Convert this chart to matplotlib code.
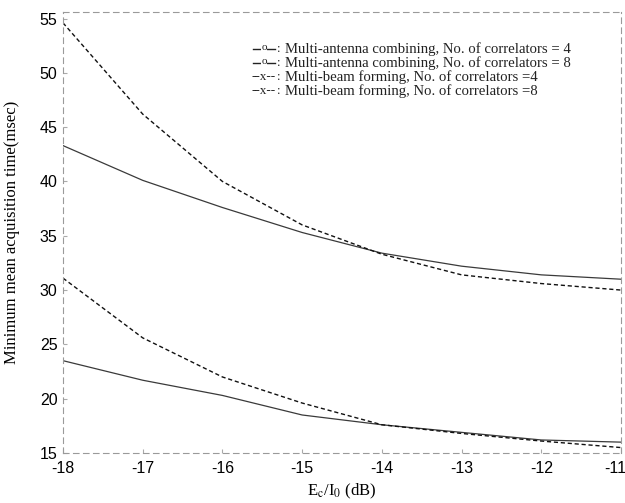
import matplotlib
matplotlib.use("Agg")
import matplotlib.pyplot as plt
import matplotlib.transforms as mtransforms
from matplotlib.lines import Line2D

# ---- data ----
ec_io_db = [-18, -17, -16, -15, -14, -13, -12, -11]
mac_corr4 = [43.3, 40.1, 37.6, 35.3, 33.4, 32.2, 31.4, 31.0]
mac_corr8 = [23.5, 21.7, 20.3, 18.5, 17.6, 16.9, 16.2, 16.0]
mbf_corr4 = [54.6, 46.2, 40.0, 36.0, 33.3, 31.4, 30.6, 30.0]
mbf_corr8 = [31.1, 25.6, 22.0, 19.6, 17.6, 16.8, 16.1, 15.5]
x_ticks = [-18, -17, -16, -15, -14, -13, -12, -11]
y_ticks = [15, 20, 25, 30, 35, 40, 45, 50, 55]
legend_lines = [
    ("o", "Multi-antenna combining, No. of correlators = 4"),
    ("o", "Multi-antenna combining, No. of correlators = 8"),
    ("x", "Multi-beam forming, No. of correlators =4"),
    ("x", "Multi-beam forming, No. of correlators =8"),
]

plt.rcParams['mathtext.fontset'] = 'stix'
fig = plt.figure(figsize=(6.25, 5.03), dpi=100)
ax = fig.add_axes([63/625, 1-453/503, (621-63)/625, (453-12)/503])

ax.plot(ec_io_db, mac_corr4, color='#3a3a3a', lw=0.9, ls='-')
ax.plot(ec_io_db, mac_corr8, color='#3a3a3a', lw=0.9, ls='-')
ax.plot(ec_io_db, mbf_corr4, color='#111111', lw=1.0, ls=(0, (3, 2)))
ax.plot(ec_io_db, mbf_corr8, color='#111111', lw=1.0, ls=(0, (3, 2)))

ax.set_xlim(-18, -11)
ax.set_ylim(15, 55.6)
ax.set_xticks(x_ticks)
ax.set_yticks(y_ticks)
ax.set_xticklabels([str(v) for v in x_ticks], family='Liberation Sans', fontsize=11.5)
ax.set_yticklabels([str(v) for v in y_ticks], family='Liberation Sans', fontsize=11.5)
ax.tick_params(axis='x', direction='in', length=3, color='#aaaaaa', pad=6)
ax.tick_params(axis='y', direction='in', length=3, color='#aaaaaa', pad=4)
last = ax.get_xticklabels()[-1]
last.set_transform(last.get_transform() + mtransforms.ScaledTranslation(-6/100, 0, fig.dpi_scale_trans))

for s in ax.spines.values():
    s.set_color('#9a9a9a')
    s.set_linewidth(0.8)
    s.set_linestyle((0, (5, 4)))

ax.set_ylabel('Minimum mean acquisition time(msec)', family='Liberation Serif', fontsize=12, labelpad=14)
ax.set_xlabel(r'E$_\mathrm{c}$/I$_0$ (dB)', family='Liberation Serif', fontsize=12, labelpad=4)

ys = [49, 63, 77, 91]
W, H = 625.0, 503.0
for (mk, txt), yp in zip(legend_lines, ys):
    yf = 1 - yp / H
    if mk == 'o':
        fig.add_artist(Line2D([253/W, 275/W], [yf, yf], color='#222222', lw=1.0,
                              transform=fig.transFigure))
        fig.text(264/W, yf + 1/H, 'o', family='Liberation Serif', fontsize=8,
                 va='center', ha='center', color='#222222',
                 bbox=dict(boxstyle='square,pad=0', fc='white', ec='none'))
    else:
        fig.text(264/W, yf, '--x--', family='Liberation Serif', fontsize=9.5,
                 va='center', ha='center', color='#222222')
    fig.text(279/W, yf, ':', family='Liberation Serif', fontsize=9,
             va='center', ha='center', color='#222222')
    fig.text(285/W, yf, txt, family='Liberation Serif', fontsize=10.6,
             va='center', ha='left', color='#222222')

fig.savefig('out.png', dpi=100)
